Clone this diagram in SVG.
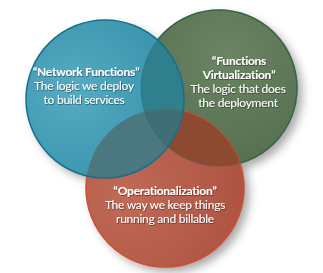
<svg xmlns="http://www.w3.org/2000/svg" width="323" height="273" viewBox="0 0 323 273">
<defs>
<filter id="sh" x="-30%" y="-30%" width="160%" height="160%">
<feDropShadow dx="5" dy="5" stdDeviation="5" flood-color="#000" flood-opacity="0.35"/>
</filter>
<filter id="ts" x="-10%" y="-30%" width="120%" height="160%">
<feDropShadow dx="0.6" dy="0.8" stdDeviation="0.6" flood-color="#000" flood-opacity="0.5"/>
</filter>
<radialGradient id="gb" cx="0.3" cy="0.45" r="0.75">
<stop offset="0" stop-color="#55abc2"/>
<stop offset="1" stop-color="#3590a9"/>
</radialGradient>
<radialGradient id="gg" cx="0.55" cy="0.3" r="0.75">
<stop offset="0" stop-color="#6a8464"/>
<stop offset="1" stop-color="#556f4e"/>
</radialGradient>
<radialGradient id="gr" cx="0.25" cy="0.55" r="0.8">
<stop offset="0" stop-color="#c06a58"/>
<stop offset="1" stop-color="#ad5240"/>
</radialGradient>
<clipPath id="cB"><circle cx="105" cy="99" r="79"/></clipPath>
<clipPath id="cG"><circle cx="219" cy="88" r="78"/></clipPath>
<clipPath id="cR"><circle cx="165" cy="188" r="79"/></clipPath>
<style>
.t{font-family:Lato,"Liberation Sans",sans-serif;font-size:12px;letter-spacing:-0.25px;fill:#fff;text-anchor:middle}
.b{font-weight:bold}
</style>
</defs>
<rect width="323" height="273" fill="#fff"/>
<g filter="url(#sh)">
<circle cx="219" cy="88" r="78" fill="#fff"/>
<circle cx="105" cy="99" r="79" fill="#fff"/>
<circle cx="165" cy="188" r="79" fill="#fff"/>
</g>
<g id="virtualization">
<circle cx="219" cy="88" r="78" fill="url(#gg)" stroke="#3f6237" stroke-width="1.5"/>
</g>
<g id="operationalization">
<circle cx="165" cy="188" r="79" fill="url(#gr)" stroke="#e2482a" stroke-width="1.5"/>
</g>
<g id="network-functions">
<circle cx="105" cy="99" r="79" fill="url(#gb)"/>
</g>
<g id="overlaps">
<g clip-path="url(#cG)"><circle cx="165" cy="188" r="79" fill="#8e4a30"/></g>
<g clip-path="url(#cG)"><circle cx="105" cy="99" r="79" fill="#2f808c"/></g>
<g clip-path="url(#cR)"><circle cx="105" cy="99" r="79" fill="#4b7781"/></g>
<g clip-path="url(#cR)"><g clip-path="url(#cG)"><circle cx="105" cy="99" r="79" fill="#3f6e77"/></g></g>
<circle cx="219" cy="88" r="78" fill="none" stroke="#2a6a72" stroke-opacity="0.5" stroke-width="1"/>
<circle cx="165" cy="188" r="79" fill="none" stroke="#6a6a6a" stroke-opacity="0.25" stroke-width="1"/>
<circle cx="105" cy="99" r="79" fill="none" stroke="#16708b" stroke-width="1.5"/>
</g>
<g class="t" filter="url(#ts)">
<text x="86" y="76" class="b">“Network Functions”</text>
<text x="84" y="90">The logic we deploy</text>
<text x="84" y="104">to build services</text>
<text x="239" y="65" class="b">“Functions</text>
<text x="239" y="79" class="b">Virtualization”</text>
<text x="238" y="93">The logic that does</text>
<text x="238" y="107">the deployment</text>
<text x="165" y="195" class="b">“Operationalization”</text>
<text x="165" y="209">The way we keep things</text>
<text x="165" y="223">running and billable</text>
</g>
</svg>
